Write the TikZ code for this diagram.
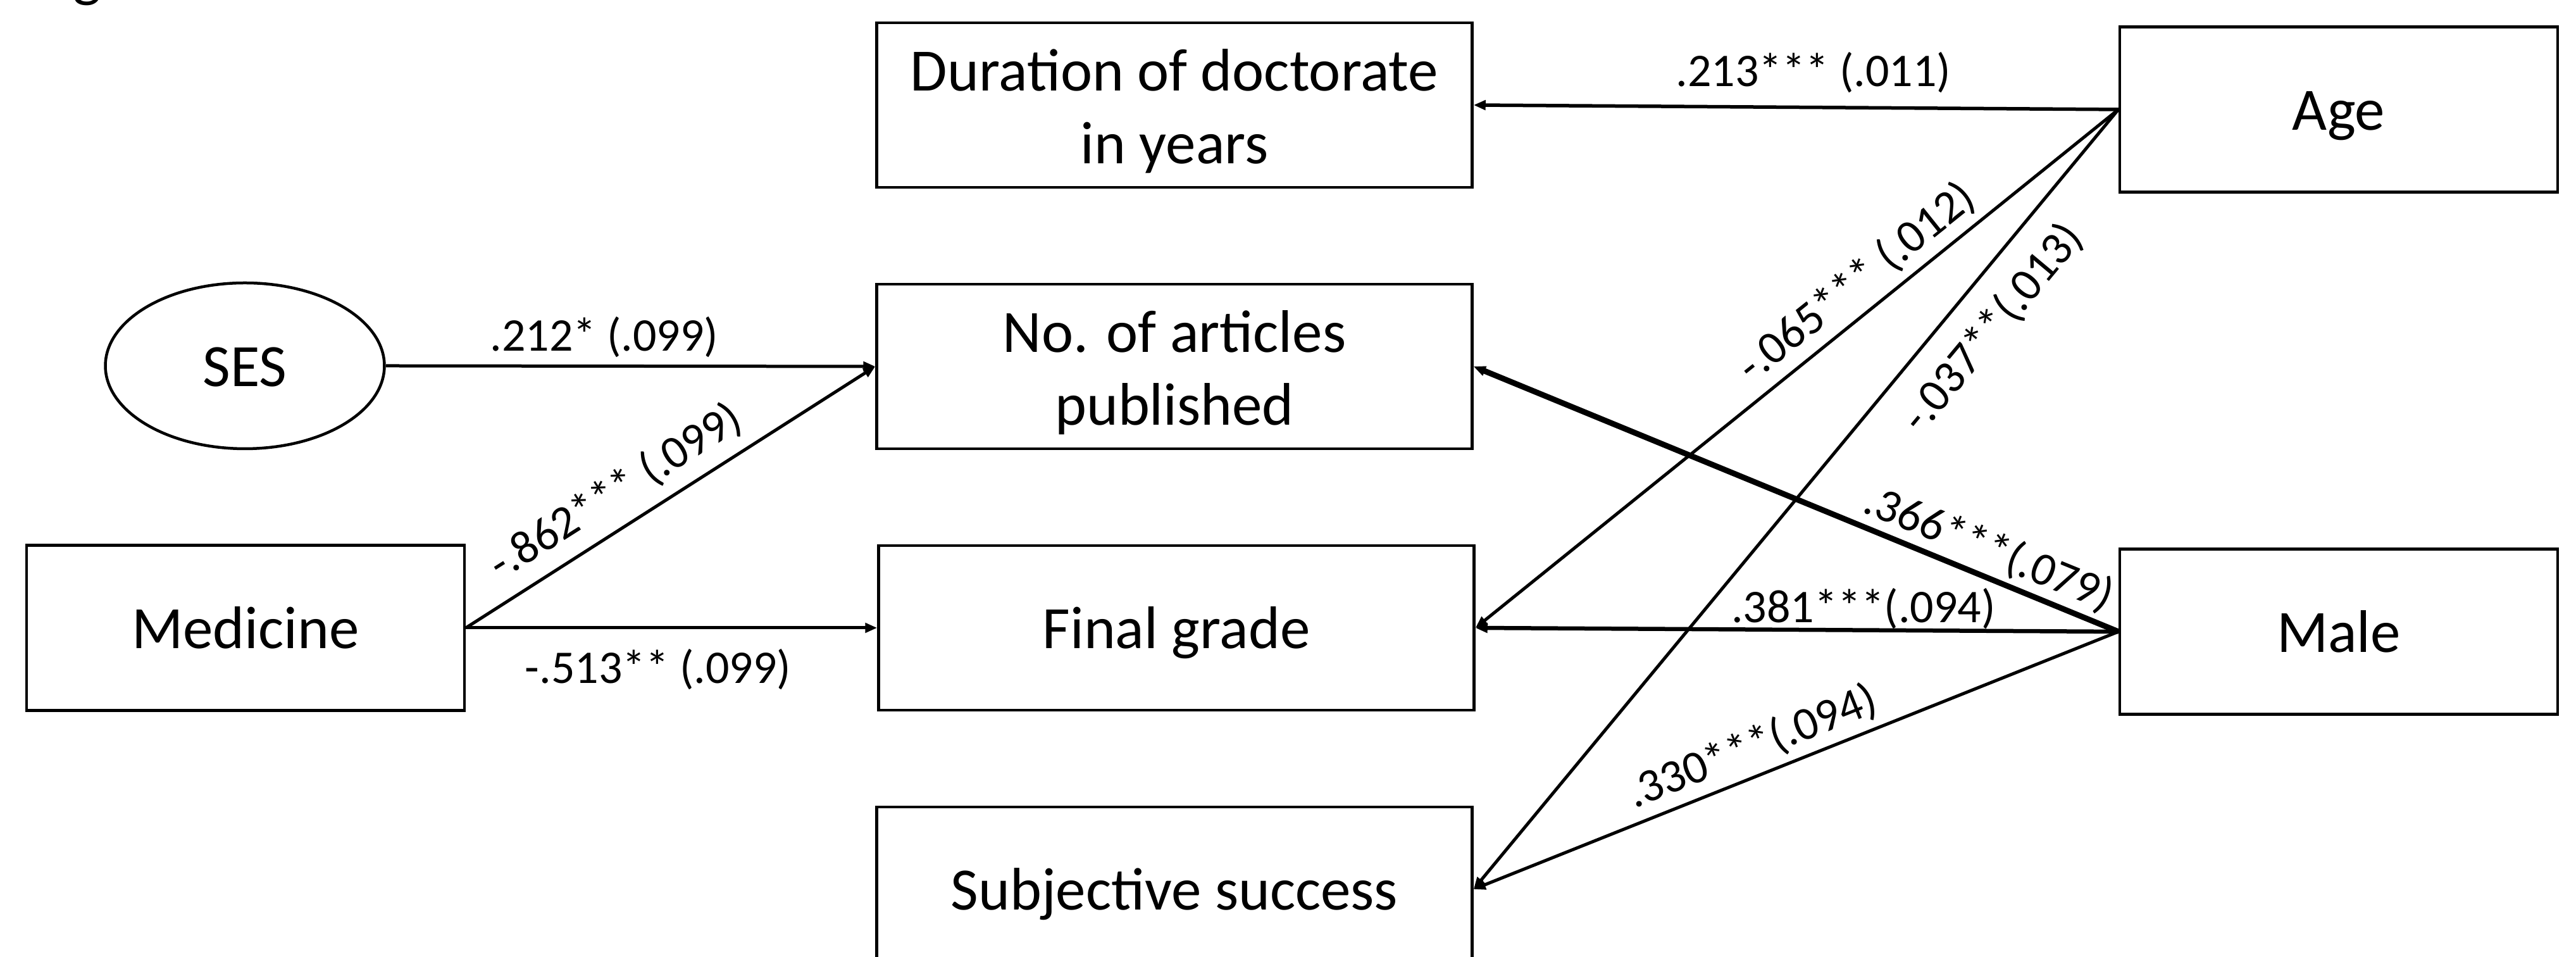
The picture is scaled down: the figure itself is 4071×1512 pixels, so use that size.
\documentclass[tikz,border=0pt]{standalone}
\usepackage{fontspec}
\setmainfont{Carlito}
\usetikzlibrary{shapes.geometric,arrows.meta}
\tikzset{
  box/.style={draw, line width=0.45pt, rectangle, inner sep=0pt, align=center,
    font=\fontsize{9.5}{11.5}\selectfont},
  one/.style={text height=0.8em, text depth=0.14em},
  wide/.style={box, minimum width=94.1pt, minimum height=26pt},
  side/.style={box, one, minimum width=69.2pt, minimum height=26.1pt},
  oval/.style={draw, line width=0.45pt, ellipse, inner sep=0pt, one,
    minimum width=44.1pt, minimum height=26.2pt, font=\fontsize{9.5}{11.5}\selectfont},
  path/.style={line width=0.5pt, -{Triangle[length=1.9pt,width=1.5pt]}},
  lab/.style={inner sep=0pt, font=\fontsize{7.4}{9}\selectfont}
}
\newcommand{\toppad}{\rule{0pt}{8.6pt}}
\begin{document}
\begin{tikzpicture}[x=0.1pt,y=-0.1pt]
\useasboundingbox (0,0) rectangle (4071,1512);
\begin{scope}
  \clip (0,0) rectangle (4071,1512);
  \node[inner sep=0pt, anchor=base, font=\fontsize{9.5}{11.5}\selectfont] (frag) at (138,-7) {g};
\end{scope}
% nodes
\node[wide] (dur) at (1856,166) {\toppad Duration of doctorate\\in years};
\node[side] (age) at (3696,173) {Age};
\node[oval] (ses) at (387,578) {SES};
\node[wide] (art) at (1856,579) {\toppad No. of articles\\published};
\node[side] (med) at (388,992) {Medicine};
\node[wide, one] (fin) at (1859,992) {Final grade};
\node[side] (male) at (3696,998) {Male};
\node[wide, one] (subj) at (1856,1405) {Subjective success};
% connectors
\draw[path, line width=0.55pt] (age.west) -- (dur.east);
\draw[path] (age.west) -- (fin.east);
\draw[path] (age.west) -- (subj.east);
\draw[path, line width=0.9pt] (male.west) -- (art.east);
\draw[path, line width=0.65pt] (male.west) -- (fin.east);
\draw[path] (male.west) -- (subj.east);
\draw[path] (ses.east) -- (art.west);
\draw[path] (med.east) -- (art.west);
\draw[path] (med.east) -- (fin.west);
% labels
\node[lab] (l1) at (2866,115) {.213*** (.011)};
\node[lab] (l2) at (955,533) {.212* (.099)};
\node[lab, rotate=32.4] (l3) at (973,777) {-.862*** (.099)};
\node[lab] (l4) at (1040,1058) {-.513** (.099)};
\node[lab, rotate=38.7] (l5) at (2934,446) {-.065*** (.012)};
\node[lab, rotate=50.2] (l6) at (3149,518) {-.037**(.013)};
\node[lab, rotate=-22.2] (l7) at (3143,867) {.366***(.079)};
\node[lab] (l8) at (2945,962) {.381***(.094)};
\node[lab, rotate=21.7] (l9) at (2769,1180) {.330***(.094)};
\end{tikzpicture}
\end{document}
